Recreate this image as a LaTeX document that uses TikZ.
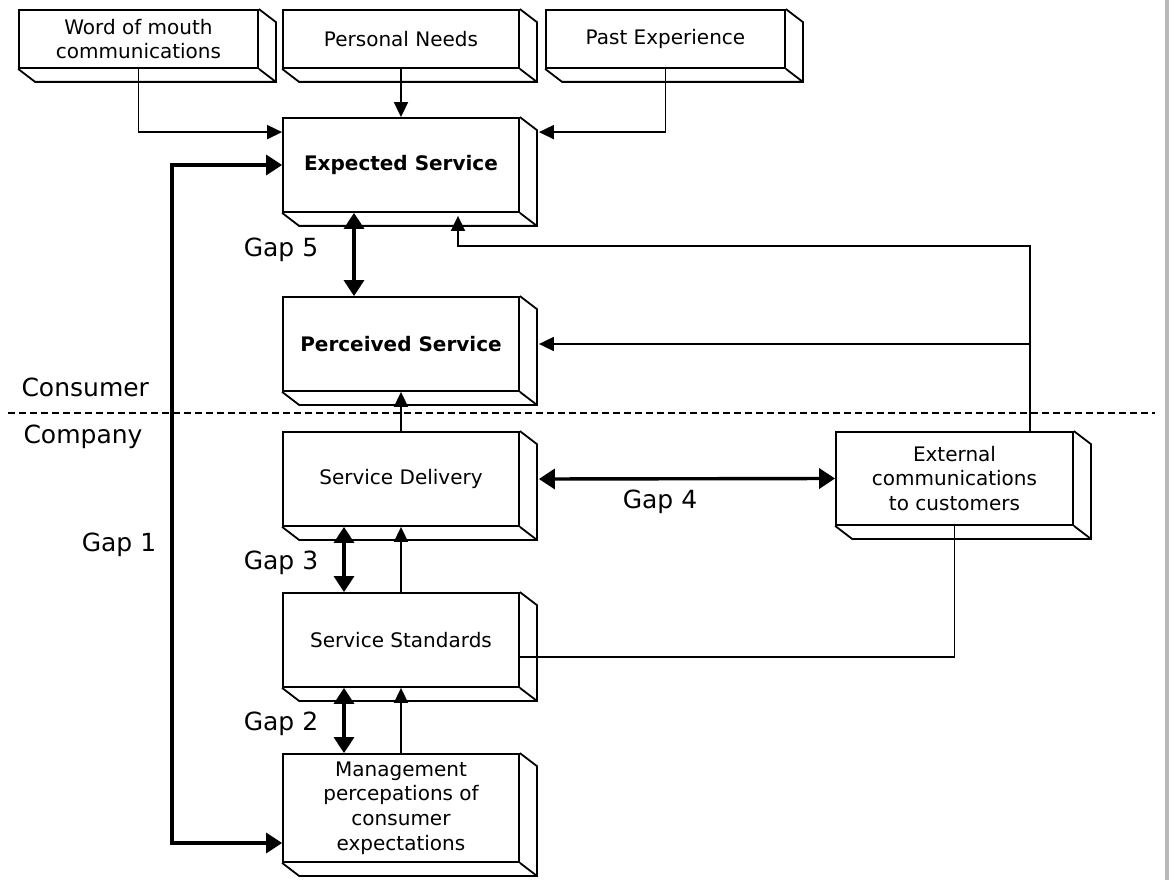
\documentclass[tikz,border=0pt]{standalone}
\usepackage{fontspec}
\setmainfont{DejaVu Sans}
\usepackage{tikz}
\usetikzlibrary{calc,arrows.meta}

\begin{document}
\begin{tikzpicture}[x=1pt,y=-1pt,>={Triangle[length=15pt,width=14pt]},
  caja/.style={draw,line width=1.8pt,inner sep=0pt,align=center,
    font=\fontsize{20}{24.7}\selectfont},
  fino/.style={line width=1.7pt},
  grueso/.style={line width=3.4pt,>={Triangle[length=16pt,width=20pt]}},
  etiqueta/.style={font=\fontsize{25}{30}\selectfont}]
  % Ventana
  \useasboundingbox (0,0) rectangle (1171,880);
  \fill[gray!55] (1165,0) rectangle (1169,880);

  % Profundidad de las cajas
  \def\dx{17}
  \def\dy{13}

  % Cajas de entrada
  \node[caja,minimum width=239pt,minimum height=58pt] (wom) at (138.5,39) {Word of mouth\\communications};
  \node[caja,minimum width=236pt,minimum height=58pt] (needs) at (401,39) {Personal Needs};
  \node[caja,minimum width=239pt,minimum height=58pt] (past) at (665.5,39) {Past Experience};

  % Consumidor
  \node[caja,minimum width=236pt,minimum height=94pt] (expected) at (401,165) {\textbf{Expected Service}};
  \node[caja,minimum width=236pt,minimum height=94pt] (perceived) at (401,344) {\textbf{Perceived Service}};

  % Empresa
  \node[caja,minimum width=236pt,minimum height=94pt] (delivery) at (401,479) {Service Delivery};
  \node[caja,minimum width=236pt,minimum height=94pt] (standards) at (401,640) {Service Standards};
  \node[caja,minimum width=236pt,minimum height=108pt] (mgmt) at (401,808) {Management\\percepations of\\consumer\\expectations};
  \node[caja,minimum width=237pt,minimum height=93pt] (external) at (954.5,478.5) {External\\communications\\to customers};

  % Caras laterales e inferiores
  \foreach \n in {wom,needs,past,expected,perceived,delivery,standards,mgmt,external}{
    \draw[line width=1.8pt] (\n.north east) -- ++(\dx,\dy) -- ($(\n.south east)+(\dx,\dy)$)
      -- ($(\n.south west)+(\dx,\dy)$) -- (\n.south west)
      (\n.south east) -- ++(\dx,\dy);
  }

  % Separacion consumidor / empresa
  \draw[line width=1.1pt,dash pattern=on 7pt off 4pt] (8,413) -- (1155,413);

  % Entradas a Expected Service
  \draw[fino,->] (wom.south) |- ($(expected.north west)+(0,15)$);
  \draw[fino,->] (needs.south) -- (expected.north);
  \draw[fino,->] (past.south) |- ($(expected.north east)+(\dx+2,15)$);

  % Gap 1
  \coordinate (g1a) at (172,165);
  \coordinate (g1b) at (172,843);
  \draw[grueso,<->] (expected.west) -- (g1a) -- (g1b) -- (g1b -| mgmt.west);

  % Gap 5
  \draw[grueso,<->] ($(expected.south)+(-47,0)$) -- ($(perceived.north)+(-47,0)$);

  % Comunicaciones externas
  \coordinate (fb) at (1030,246);
  \draw[fino,->] (fb |- external.north) -- (fb) -| ($(expected.south)+(57,3)$);
  \draw[fino,->] (fb |- perceived.east) -- ($(perceived.east)+(\dx+2,0)$);
  \draw[fino] (external.south) |- ($(standards.east)+(0,17)$);

  % Gap 4
  \draw[grueso,<->] ($(delivery.east)+(\dx+2,0)$) -- (external.west);

  % Gap 3 y Gap 2
  \draw[fino,->] (delivery.north) -- (perceived.south);
  \draw[grueso,<->] ($(delivery.south)+(-57,0)$) -- ($(standards.north)+(-57,0)$);
  \draw[fino,->] (standards.north) -- (delivery.south);
  \draw[grueso,<->] ($(standards.south)+(-57,0)$) -- ($(mgmt.north)+(-57,0)$);
  \draw[fino,->] (mgmt.north) -- (standards.south);

  % Etiquetas
  \node[etiqueta] (gap5) at (281,250) {Gap 5};
  \node[etiqueta,anchor=west] (consumer) at (18,387) {Consumer};
  \node[etiqueta,anchor=west] (company) at (20,437) {Company};
  \node[etiqueta] (gap1) at (119,545) {Gap 1};
  \node[etiqueta] (gap3) at (281,563) {Gap 3};
  \node[etiqueta] (gap4) at (660,502) {Gap 4};
  \node[etiqueta] (gap2) at (281,724) {Gap 2};
\end{tikzpicture}
\end{document}
